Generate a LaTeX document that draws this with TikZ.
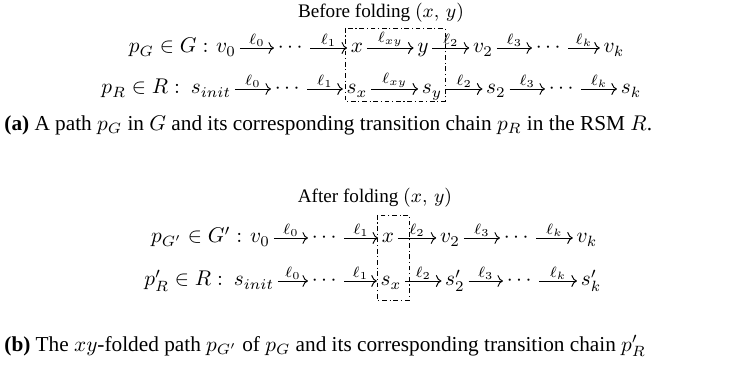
\documentclass[tikz,border=0pt]{standalone}
\usepackage{fontspec}
\setmainfont{Liberation Serif}
\usepackage{amsmath}
\usetikzlibrary{arrows.meta, positioning}

\begin{document}
\begin{tikzpicture}[
    x=0.47pt, y=-0.47pt,
    font=\fontsize{10}{12}\selectfont,
    token/.style={inner sep=1.6pt, text height=1.55ex, text depth=.55ex},
    trans/.style={-{Computer Modern Rightarrow[length=2.6pt, width=5.6pt]}, line width=0.45pt},
    lbl/.style={above, inner sep=0.5pt, font=\scriptsize},
    foldbox/.style={draw, line width=0.4pt, dash pattern=on 2.2pt off 1.3pt on 0.5pt off 1.3pt},
    title/.style={font=\fontsize{9}{11}\selectfont},
    caption/.style={anchor=west, inner sep=0pt}
]
\useasboundingbox (0,0) rectangle (737,368);

% (a) before folding
\node[title] (titleA) at (381,13) {Before folding $(x,\,y)$};

\node[token] (v0)     at (226,48) {$v_0$};
\node[token, left=0pt of v0] (lhsG) {$p_G \in G :$};
\node[token] (dotsGa) at (292,48) {$\cdots$};
\node[token] (x)      at (357,48) {$x$};
\node[token] (y)      at (423,48) {$y$};
\node[token] (v2)     at (483,48) {$v_2$};
\node[token] (dotsGb) at (550,48) {$\cdots$};
\node[token] (vk)     at (614,48) {$v_k$};

\node[token] (sinit)  at (211,89) {$s_{init}$};
\node[token, left=1.5pt of sinit] (lhsR) {$p_R \in R :$};
\node[token] (dotsRa) at (289,89) {$\cdots$};
\node[token] (sx)     at (357,89) {$s_x$};
\node[token] (sy)     at (432,89) {$s_y$};
\node[token] (s2)     at (496,89) {$s_2$};
\node[token] (dotsRb) at (563,89) {$\cdots$};
\node[token] (sk)     at (631,89) {$s_k$};

\draw[trans] (v0) -- node[lbl] {$\ell_0$} (dotsGa);
\draw[trans] (dotsGa) -- node[lbl] {$\ell_1$} (x);
\draw[trans] (x) -- node[lbl] {$\ell_{xy}$} (y);
\draw[trans] (y) -- node[lbl] {$\ell_2$} (v2);
\draw[trans] (v2) -- node[lbl] {$\ell_3$} (dotsGb);
\draw[trans] (dotsGb) -- node[lbl] {$\ell_k$} (vk);

\draw[trans] (sinit) -- node[lbl] {$\ell_0$} (dotsRa);
\draw[trans] (dotsRa) -- node[lbl] {$\ell_1$} (sx);
\draw[trans] (sx) -- node[lbl] {$\ell_{xy}$} (sy);
\draw[trans] (sy) -- node[lbl] {$\ell_2$} (s2);
\draw[trans] (s2) -- node[lbl] {$\ell_3$} (dotsRb);
\draw[trans] (dotsRb) -- node[lbl] {$\ell_k$} (sk);

\draw[foldbox] (345,28) rectangle (445,101);

\node[caption] (capA) at (4,125) {\textbf{(a)} A path $p_G$ in $G$ and its corresponding transition chain $p_R$ in the RSM $R$.};

% (b) after folding
\node[title] (titleB) at (375,198) {After folding $(x,\,y)$};

\node[token] (v0p)     at (260,238) {$v_0$};
\node[token, left=0pt of v0p] (lhsGp) {$p_{G'} \in G' :$};
\node[token] (dotsGpa) at (326,238) {$\cdots$};
\node[token] (xp)      at (388,238) {$x$};
\node[token] (v2p)     at (450,238) {$v_2$};
\node[token] (dotsGpb) at (518,238) {$\cdots$};
\node[token] (vkp)     at (587,238) {$v_k$};

\node[token] (sinitp)  at (254,281) {$s_{init}$};
\node[token, left=1.5pt of sinitp] (lhsRp) {$p'_R \in R :$};
\node[token] (dotsRpa) at (326,281) {$\cdots$};
\node[token] (sxp)     at (391,281) {$s_x$};
\node[token] (s2p)     at (455,281) {$s'_2$};
\node[token] (dotsRpb) at (521,281) {$\cdots$};
\node[token] (skp)     at (591,281) {$s'_k$};

\draw[trans] (v0p) -- node[lbl] {$\ell_0$} (dotsGpa);
\draw[trans] (dotsGpa) -- node[lbl] {$\ell_1$} (xp);
\draw[trans] (xp) -- node[lbl] {$\ell_2$} (v2p);
\draw[trans] (v2p) -- node[lbl] {$\ell_3$} (dotsGpb);
\draw[trans] (dotsGpb) -- node[lbl] {$\ell_k$} (vkp);

\draw[trans] (sinitp) -- node[lbl] {$\ell_0$} (dotsRpa);
\draw[trans] (dotsRpa) -- node[lbl] {$\ell_1$} (sxp);
\draw[trans] (sxp) -- node[lbl] {$\ell_2$} (s2p);
\draw[trans] (s2p) -- node[lbl] {$\ell_3$} (dotsRpb);
\draw[trans] (dotsRpb) -- node[lbl] {$\ell_k$} (skp);

\draw[foldbox] (377,215) rectangle (409,300);

\node[caption] (capB) at (4,346) {\textbf{(b)} The $xy$-folded path $p_{G'}$ of $p_G$ and its corresponding transition chain $p'_R$};
\end{tikzpicture}
\end{document}
